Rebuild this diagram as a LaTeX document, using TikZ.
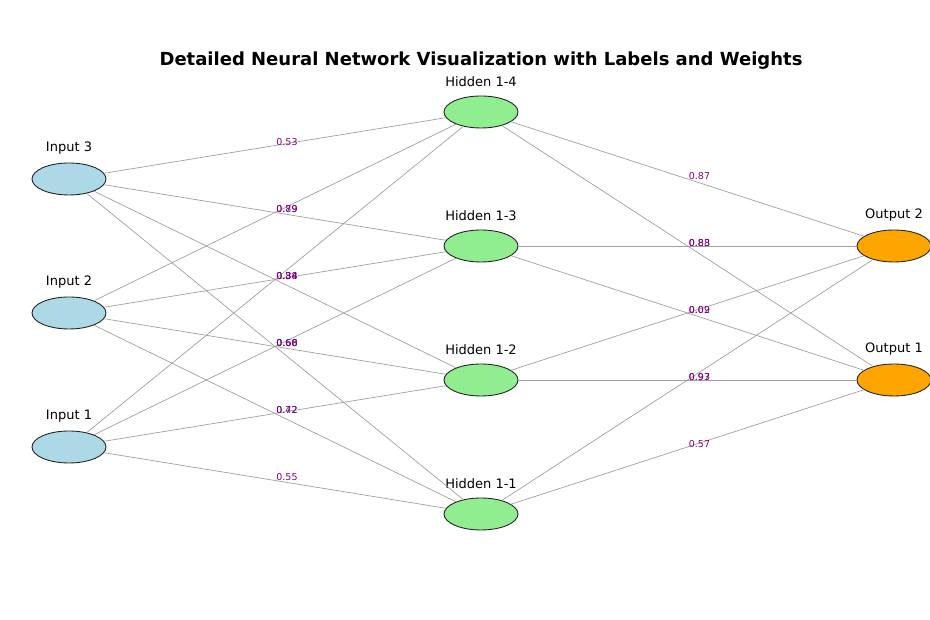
\documentclass[tikz,border=0pt]{standalone}
\usepackage{fontspec}
\setmainfont{DejaVu Sans}
\usetikzlibrary{shapes.geometric}
\begin{document}
\begin{tikzpicture}[x=1pt,y=1pt,
  neuron/.style={ellipse,draw=black!85,line width=0.9pt,minimum width=74pt,minimum height=32pt,inner sep=0pt},
  inp/.style={neuron,fill={rgb,255:red,173;green,216;blue,230}},
  hid/.style={neuron,fill={rgb,255:red,144;green,238;blue,144}},
  outp/.style={neuron,fill={rgb,255:red,255;green,165;blue,0}},
  conn/.style={draw={rgb,255:red,160;green,160;blue,160},line width=0.7pt},
  wlbl/.style={text={rgb,255:red,128;green,0;blue,128},font=\fontsize{9.5}{10}\selectfont,inner sep=0pt,xshift=12pt,yshift=3pt},
  nlbl/.style={font=\fontsize{13}{15}\selectfont,inner sep=0pt},
]
\useasboundingbox (0,0) rectangle (930,620);
\node[font=\bfseries\fontsize{18}{20}\selectfont] (title) at (481,559) {Detailed Neural Network Visualization with Labels and Weights};

\node[inp] (i1) at (69,173) {};
\node[inp] (i2) at (69,307) {};
\node[inp] (i3) at (69,441) {};
\node[hid] (h1) at (481,106) {};
\node[hid] (h2) at (481,240) {};
\node[hid] (h3) at (481,374) {};
\node[hid] (h4) at (481,508) {};
\node[outp] (o1) at (894,240) {};
\node[outp] (o2) at (894,374) {};

\foreach \n/\t in {i1/Input 1,i2/Input 2,i3/Input 3,h1/Hidden 1-1,h2/Hidden 1-2,h3/Hidden 1-3,h4/Hidden 1-4,o1/Output 1,o2/Output 2}
  \node[nlbl] (\n lbl) at ([yshift=30.5pt]\n.center) {\t};

\newcommand{\myedge}[3]{\path[conn] (#1) -- node[wlbl] {#3} (#2);}
\myedge{i3}{h4}{0.53}
\myedge{i3}{h3}{0.79}
\myedge{i2}{h4}{0.89}
\myedge{i3}{h2}{0.34}
\myedge{i2}{h3}{0.38}
\myedge{i1}{h4}{0.84}
\myedge{i3}{h1}{0.66}
\myedge{i2}{h2}{0.60}
\myedge{i1}{h3}{0.68}
\myedge{i2}{h1}{0.42}
\myedge{i1}{h2}{0.72}
\myedge{i1}{h1}{0.55}
\myedge{h4}{o2}{0.87}
\myedge{h4}{o1}{0.83}
\myedge{h3}{o2}{0.88}
\myedge{h3}{o1}{0.02}
\myedge{h2}{o2}{0.09}
\myedge{h2}{o1}{0.93}
\myedge{h1}{o2}{0.97}
\myedge{h1}{o1}{0.57}
\end{tikzpicture}
\end{document}
